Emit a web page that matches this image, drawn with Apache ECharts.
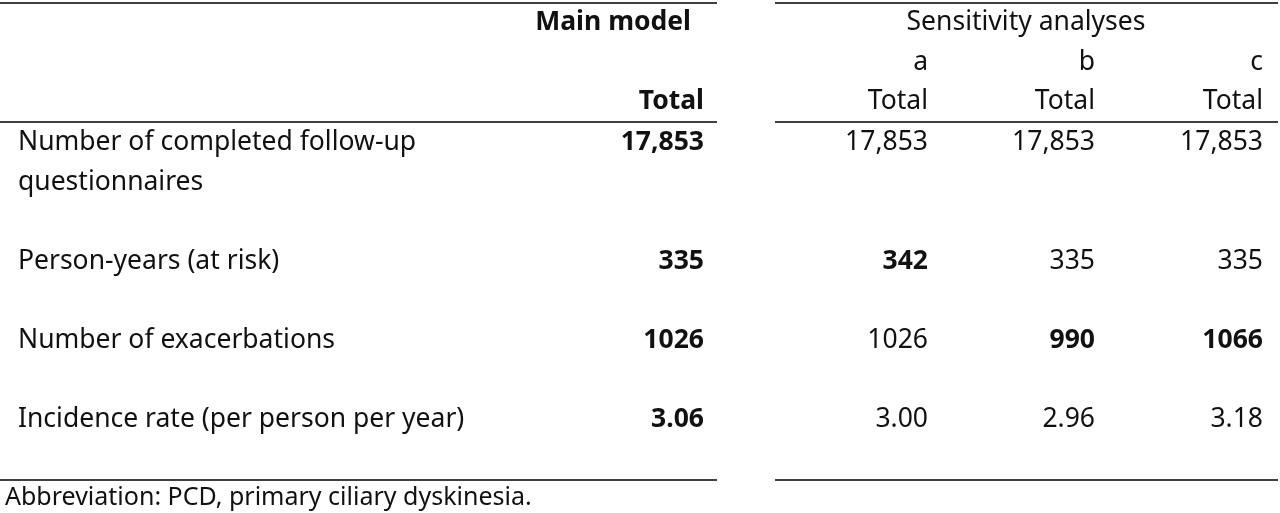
<!DOCTYPE html>
<html><head><meta charset="utf-8">
<script src="https://cdn.jsdelivr.net/npm/echarts@6/dist/echarts.min.js"></script>
<style>html,body{margin:0;padding:0;background:#fff}#c{width:1280px;height:513px}</style>
</head><body><div id="c"></div>
<script>
const rowLabels = [["Number of completed follow-up","questionnaires"],["Person-years (at risk)"],["Number of exacerbations"],["Incidence rate (per person per year)"]];
const mainModel = ["17,853","335","1026","3.06"];
const sensA = ["17,853","342","1026","3.00"];
const sensB = ["17,853","335","990","2.96"];
const sensC = ["17,853","335","1066","3.18"];
const boldA = [false,true,false,false];
const boldB = [false,false,true,false];
const boldC = [false,false,true,false];
const subLabels = ["a","b","c"];
const footnote = "Abbreviation: PCD, primary ciliary dyskinesia.";

const F = '"Noto Sans", sans-serif', FS = 26.5, col = '#111';
const rowY = [142, 261, 340, 419];
const colX = [704, 928, 1095, 1263];
const els = [];
function txt(x, y, s, align, bold, fs) {
  els.push({type:'text', x, y, style:{text:s, x:0, y:0, align, verticalAlign:'middle', font:(bold?'bold ':'')+(fs||FS)+'px '+F, fill:col}});
}
function line(x1,x2,y){ els.push({type:'line', shape:{x1,y1:y,x2,y2:y}, style:{stroke:'#000', lineWidth:1.3}}); }
line(0,717,3); line(775,1278,3);
line(0,717,122); line(775,1278,122);
line(0,717,480); line(775,1278,480);
txt(691,22,"Main model",'right',true);
txt(1026,22,"Sensitivity analyses",'center',false);
subLabels.forEach((s,i)=>txt(colX[i+1],62,s,'right',false));
txt(colX[0],101,"Total",'right',true);
for(let i=1;i<4;i++) txt(colX[i],101,"Total",'right',false);
rowLabels.forEach((lines,r)=>{
  lines.forEach((l,k)=>txt(18,rowY[r]+k*40,l,'left',false));
  txt(colX[0],rowY[r],mainModel[r],'right',true);
  txt(colX[1],rowY[r],sensA[r],'right',boldA[r]);
  txt(colX[2],rowY[r],sensB[r],'right',boldB[r]);
  txt(colX[3],rowY[r],sensC[r],'right',boldC[r]);
});
txt(5,498,footnote,'left',false,25);
const chart = echarts.init(document.getElementById('c'));
chart.setOption({animation:false, graphic:{elements:els}});
</script></body></html>
